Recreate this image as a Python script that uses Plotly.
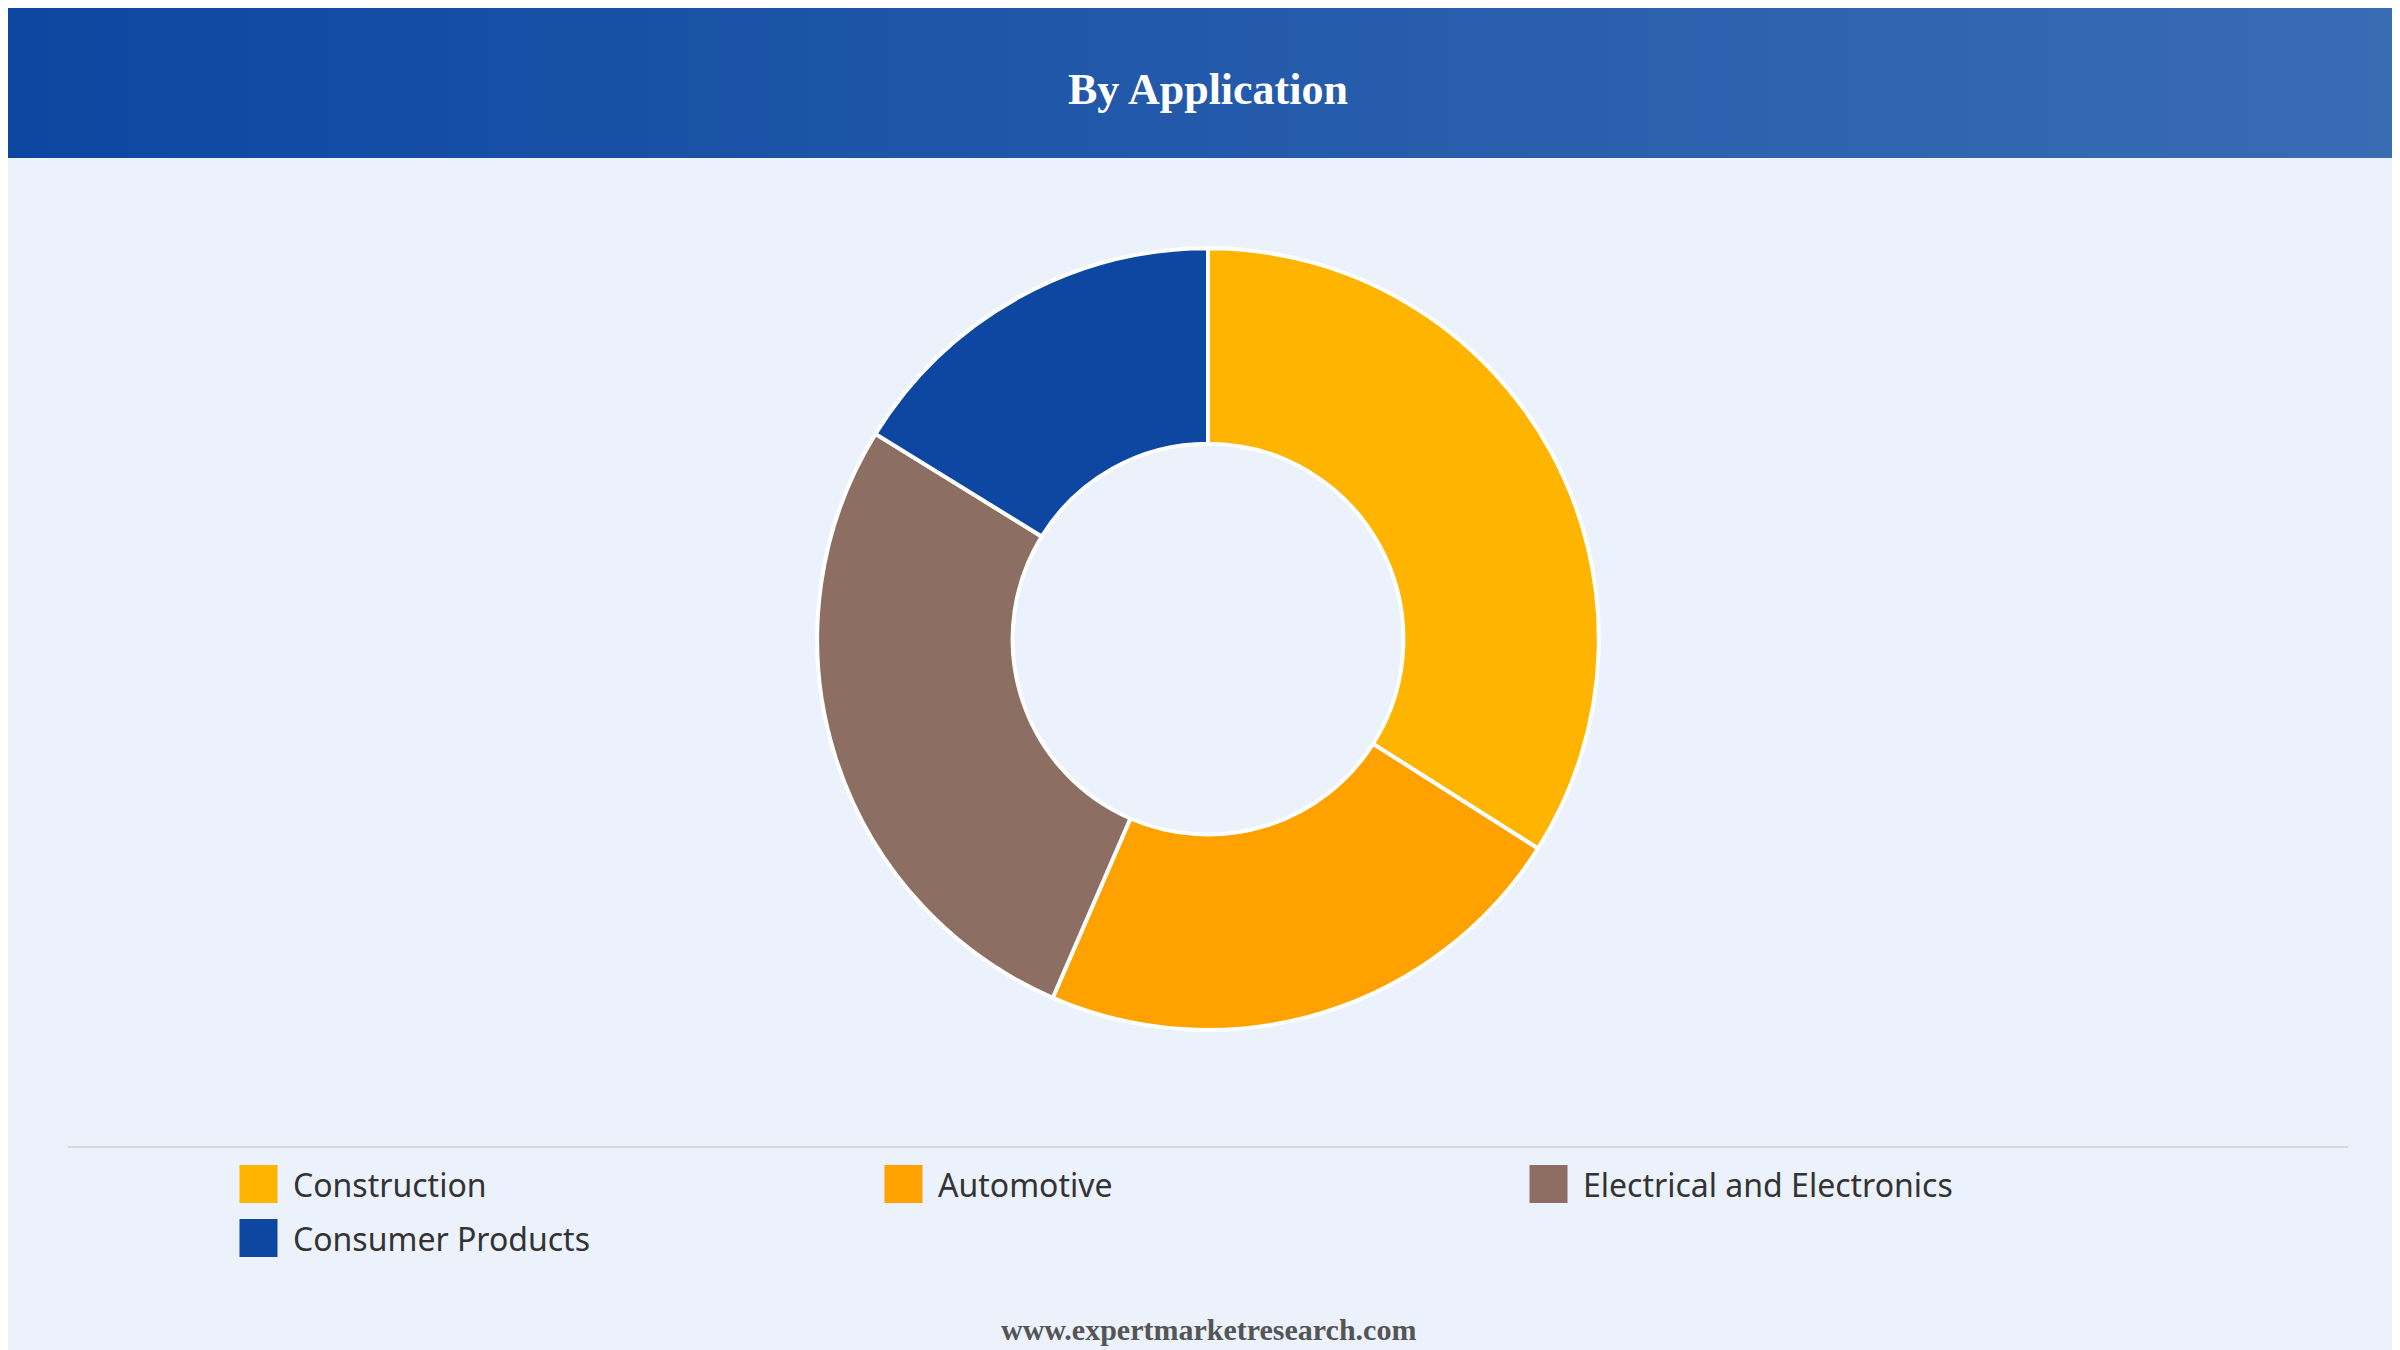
import plotly.graph_objects as go

labels = ["Construction", "Automotive", "Electrical and Electronics", "Consumer Products"]
values = [34, 22.5, 27.3, 16.2]
colors = ["#FFB400", "#FFA200", "#8D6E63", "#0D47A1"]

W, H = 2400, 1350
fig = go.Figure(go.Pie(
    labels=labels, values=values, hole=0.5, sort=False, direction="clockwise", rotation=0,
    marker=dict(colors=colors, line=dict(color="white", width=4)),
    textinfo="none", hoverinfo="label+percent", showlegend=False,
    domain=dict(x=[0.3, 0.7], y=[0.243, 0.822]),
))

shapes = []
n = 60
c0, c1 = (13, 71, 161), (58, 108, 180)
for i in range(n):
    t = i / (n - 1)
    c = tuple(round(a + (b - a) * t) for a, b in zip(c0, c1))
    shapes.append(dict(type="rect", xref="paper", yref="paper", x0=i / n, x1=(i + 1) / n + 0.002,
                       y0=1 - 150 / H, y1=1, fillcolor="rgb(%d,%d,%d)" % c, line=dict(width=0), layer="below"))
shapes.append(dict(type="line", xref="paper", yref="paper", x0=39 / 1568, x1=1529 / 1568,
                   y0=1 - 1139 / H, y1=1 - 1139 / H, line=dict(color="#D5DAE1", width=2)))

annotations = [
    dict(text="<b>By Application</b>", x=0.5, y=1 - 81 / H, xref="paper", yref="paper", showarrow=False,
         yanchor="middle", font=dict(family="Liberation Serif", size=44, color="white")),
    dict(text="<b>www.expertmarketresearch.com</b>", x=0.5, y=1 - 1321 / H, xref="paper", yref="paper",
         yanchor="middle", showarrow=False, font=dict(family="Liberation Serif", size=30, color="#555555")),
]

# custom legend (large rounded swatches)
for i, (lab, col) in enumerate(zip(labels, colors)):
    row, colm = divmod(i, 3)
    x0 = 233 + colm * 645
    yc = 1176 + row * 54
    shapes.append(dict(type="rect", xref="paper", yref="paper", x0=x0 / W, x1=(x0 + 35) / W,
                       y0=1 - (yc + 17.5) / H, y1=1 - (yc - 17.5) / H, fillcolor=col,
                       line=dict(color=col, width=3)))
    annotations.append(dict(text=lab, x=(x0 + 50) / W, y=1 - yc / H, xref="paper", yref="paper",
                            xanchor="left", yanchor="middle", showarrow=False,
                            font=dict(family="Noto Sans", size=32, color="#333333")))

fig.update_layout(
    width=W, height=H, margin=dict(l=0, r=0, t=0, b=0),
    paper_bgcolor="#EBF2FC", plot_bgcolor="#EBF2FC", shapes=shapes, annotations=annotations,
)
fig.write_html("out.html")
